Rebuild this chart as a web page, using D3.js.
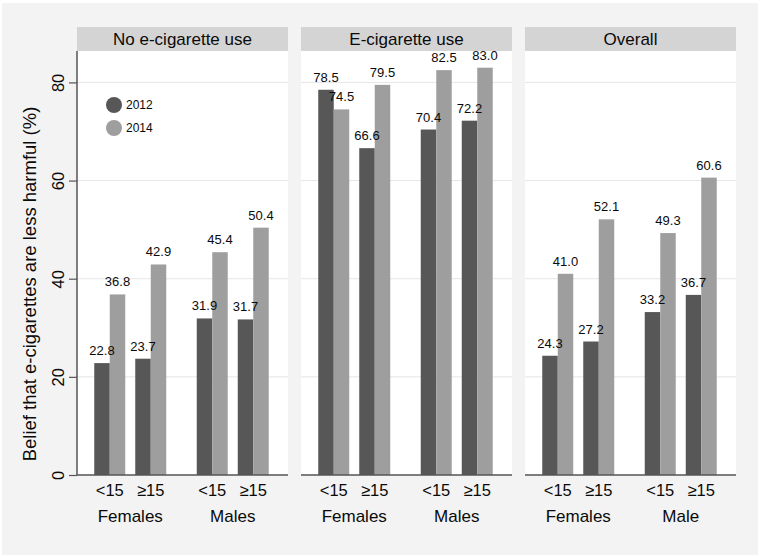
<!DOCTYPE html>
<html>
<head>
<meta charset="utf-8">
<script src="https://cdn.jsdelivr.net/npm/d3@7"></script>
<style>
  html, body { margin: 0; padding: 0; background: #ffffff; }
  svg { display: block; font-family: "Liberation Sans", Arial, Helvetica, sans-serif; }
</style>
</head>
<body>
<svg id="chart" width="765" height="557"></svg>
<script>
// ---- Data ----
const panels = ["No e-cigarette use", "E-cigarette use", "Overall"];
const groupsByPanel = [["Females", "Males"], ["Females", "Males"], ["Females", "Male"]];
const ages = ["<15", "≥15"];
const years = ["2012", "2014"];
// values per panel: [F<15, F≥15, M<15, M≥15]
const values2012 = [[22.8, 23.7, 31.9, 31.7], [78.5, 66.6, 70.4, 72.2], [24.3, 27.2, 33.2, 36.7]];
const values2014 = [[36.8, 42.9, 45.4, 50.4], [74.5, 79.5, 82.5, 83.0], [41.0, 52.1, 49.3, 60.6]];
const yTicks = [0, 20, 40, 60, 80];
const yTitle = "Belief that e-cigarettes are less harmful (%)";

// ---- Layout ----
const svg = d3.select("#chart");
const plotTop = 51, plotBottom = 475, headerTop = 27;
const panelLeft0 = 77, panelW = 211, panelStep = 224;
const colors = { "2012": "#575757", "2014": "#9e9e9e" };
const textColor = "#0a0a0a";

svg.append("rect").attr("x", 2).attr("y", 3).attr("width", 756).attr("height", 552)
  .attr("fill", "#f3f3f3");

const y = d3.scaleLinear().domain([0, 86.4]).range([plotBottom, plotTop]);
const panelX = d3.scaleLinear().domain([0, 1]).range([panelLeft0, panelLeft0 + panelStep]);

const xGroup = d3.scaleBand().domain([0, 1]).range([2, 207]).padding(0);
const xAge = d3.scaleBand().domain(ages).range([0, xGroup.bandwidth()])
  .paddingInner(0.244).paddingOuter(0.372);
const xYear = d3.scaleBand().domain(years).range([0, xAge.bandwidth()]).padding(0);

panels.forEach((pname, pi) => {
  const g = svg.append("g").attr("transform", `translate(${panelX(pi)},0)`);
  g.append("rect").attr("x", 0).attr("y", plotTop).attr("width", panelW)
    .attr("height", plotBottom - plotTop).attr("fill", "#ffffff");
  g.selectAll("line.grid").data(yTicks.filter(d => d > 0)).join("line")
    .attr("x1", 0).attr("x2", panelW)
    .attr("y1", d => y(d)).attr("y2", d => y(d))
    .attr("stroke", "#e6e6e6").attr("stroke-width", 1);

  const data = [];
  groupsByPanel[pi].forEach((gr, gi) => {
    ages.forEach((a, ai) => {
      const idx = gi * 2 + ai;
      years.forEach(yr => {
        const v = yr === "2012" ? values2012[pi][idx] : values2014[pi][idx];
        data.push({ gi, a, yr, v });
      });
    });
  });
  const xPos = d => xGroup(d.gi) + xAge(d.a) + xYear(d.yr);
  g.selectAll("rect.bar").data(data).join("rect")
    .attr("x", xPos)
    .attr("y", d => y(d.v))
    .attr("width", xYear.bandwidth())
    .attr("height", d => y(0) - y(d.v))
    .attr("fill", d => colors[d.yr]);

  g.selectAll("text.val").data(data).join("text")
    .attr("x", d => xPos(d) + xYear.bandwidth() / 2)
    .attr("y", d => y(d.v) - 8)
    .attr("text-anchor", "middle")
    .attr("font-size", 13).attr("fill", textColor)
    .text(d => d.v.toFixed(1));

  g.append("line").attr("x1", 0).attr("x2", panelW)
    .attr("y1", y(0)).attr("y2", y(0))
    .attr("stroke", "#555").attr("stroke-width", 1.3);

  // header (drawn over labels, clipping tall ones as in the original)
  g.append("rect").attr("x", 0).attr("y", headerTop).attr("width", panelW)
    .attr("height", plotTop - headerTop).attr("fill", "#d4d4d4");
  g.append("text").attr("x", panelW / 2).attr("y", headerTop + 18)
    .attr("text-anchor", "middle").attr("font-size", 17).attr("fill", textColor)
    .text(pname);

  groupsByPanel[pi].forEach((gr, gi) => {
    ages.forEach(a => {
      g.append("text")
        .attr("x", xGroup(gi) + xAge(a) + xAge.bandwidth() / 2)
        .attr("y", 496).attr("text-anchor", "middle")
        .attr("font-size", 16.5).attr("fill", textColor).text(a);
    });
    g.append("text")
      .attr("x", xGroup(gi) + xGroup.bandwidth() / 2)
      .attr("y", 522).attr("text-anchor", "middle")
      .attr("font-size", 17).attr("fill", textColor).text(gr);
  });
});

// y axis (first panel only)
const yAxis = d3.axisLeft(y).tickValues(yTicks).tickSize(8).tickPadding(4);
const ay = svg.append("g").attr("transform", `translate(${panelLeft0},0)`).call(yAxis);
ay.select(".domain").attr("d", `M0,${plotTop}V${plotBottom}`).attr("stroke", "#555").attr("stroke-width", 1.5);
ay.selectAll(".tick line").attr("stroke", "#555").attr("stroke-width", 1.2);
ay.selectAll(".tick text")
  .attr("font-size", 16.5).attr("fill", textColor)
  .attr("font-family", '"Liberation Sans", Arial, sans-serif')
  .attr("x", null).attr("dy", null)
  .attr("transform", "translate(-13,0) rotate(-90)")
  .attr("text-anchor", "middle")
  .attr("y", 0);

svg.append("text")
  .attr("transform", "translate(36,284) rotate(-90)")
  .attr("text-anchor", "middle").attr("font-size", 18.5).attr("fill", textColor)
  .text(yTitle);

// legend
const legY = d3.scalePoint().domain(years).range([105, 128]);
const leg = svg.append("g");
leg.selectAll("circle").data(years).join("circle")
  .attr("cx", 114).attr("cy", d => legY(d)).attr("r", 8)
  .attr("fill", d => colors[d]);
leg.selectAll("text").data(years).join("text")
  .attr("x", 126).attr("y", d => legY(d) + 4)
  .attr("font-size", 12).attr("fill", textColor).text(d => d);
</script>
</body>
</html>
